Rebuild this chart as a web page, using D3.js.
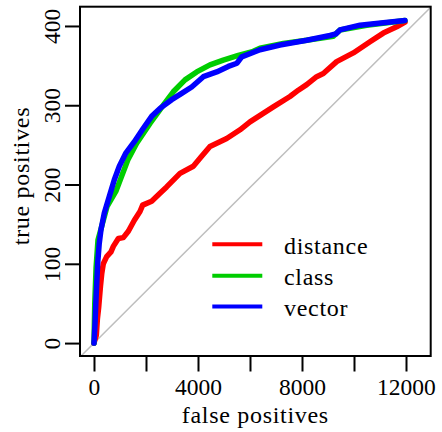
<!DOCTYPE html>
<html>
<head>
<meta charset="utf-8">
<script src="https://cdn.jsdelivr.net/npm/d3@7"></script>
<style>
  html, body { margin: 0; padding: 0; background: #fff; }
  svg { display: block; }
  svg text { font-family: "Liberation Serif", "Times New Roman", Tinos, "DejaVu Serif", serif; fill: #000; }
</style>
</head>
<body>
<svg id="chart" width="442" height="432"></svg>
<script>
// ---- data (false positives, true positives) ----
const seriesNames = ["distance", "class", "vector"];
const seriesColors = ["#FF0000", "#00CD00", "#0000FF"];

const distanceFP = [0, 90, 130, 180, 250, 300, 358, 488, 654, 744, 936, 1128, 1321, 1552, 1769, 1872, 2218, 2538, 2794, 3308, 3820, 4100, 4461, 5104, 5617, 6000, 6897, 7538, 7859, 8180, 8564, 8820, 9333, 9974, 10615, 11127, 11641, 11960];
const distanceTP = [0, 10, 30, 45, 72, 88, 100, 109, 115, 122, 132, 133, 141, 155, 166, 174, 179, 189, 197, 214, 223, 234, 248, 258, 269, 279, 298, 311, 319, 326, 336, 340, 355, 366, 380, 391, 399, 405];

const classFP = [0, 30, 80, 154, 327, 500, 850, 1300, 1642, 2154, 2666, 3050, 3500, 3950, 4461, 4973, 5551, 6127, 6384, 7281, 8180, 9204, 9461, 10488, 11511, 11960];
const classTP = [0, 50, 95, 130, 151, 172, 192, 231, 252, 277, 300, 317, 332, 342, 351, 357, 363, 368, 372, 378, 382, 387, 395, 401, 405, 407];

const vectorFP = [0, 40, 77, 141, 200, 269, 397, 590, 782, 974, 1231, 1552, 1897, 2218, 2538, 2988, 3373, 3758, 4206, 4718, 5166, 5500, 5680, 6384, 7153, 8180, 9077, 9300, 9461, 10230, 11127, 11960];
const vectorTP = [0, 25, 55, 100, 125, 143, 164, 185, 206, 223, 240, 254, 271, 286, 296, 307, 315, 323, 336, 342, 349, 353, 361, 370, 376, 382, 388, 390, 395, 401, 404, 407];

const xTicks = [0, 2000, 4000, 6000, 8000, 10000, 12000];
const xTickLabels = [0, 4000, 8000, 12000];
const yTicks = [0, 100, 200, 300, 400];
const diagSlope = 0.0327;

// ---- layout ----
const FONT = "'Liberation Serif', 'Times New Roman', Tinos, 'DejaVu Serif', serif";
const NUM_SIZE = 23.5, WORD_SIZE = 24, WORD_SPACING = 0.7;
const svg = d3.select("#chart");
const L = 80, R = 430.7, T = 6.7, B = 356;

const x = d3.scaleLinear().domain([-538, 12950]).range([L, R]);
const y = d3.scaleLinear().domain([-16.3, 424.3]).range([B, T]);

svg.append("defs").append("clipPath").attr("id", "plotclip")
  .append("rect").attr("x", L).attr("y", T).attr("width", R - L).attr("height", B - T);

const plot = svg.append("g").attr("clip-path", "url(#plotclip)");

// diagonal reference line
const dx = x.domain();
plot.append("line")
  .attr("x1", x(dx[0])).attr("y1", y(dx[0] * diagSlope))
  .attr("x2", x(dx[1])).attr("y2", y(dx[1] * diagSlope))
  .attr("stroke", "#BEBEBE").attr("stroke-width", 1.5);

const line = d3.line().x(d => x(d[0])).y(d => y(d[1]));
const series = [
  d3.zip(distanceFP, distanceTP),
  d3.zip(classFP, classTP),
  d3.zip(vectorFP, vectorTP)
];
series.forEach((pts, i) => {
  plot.append("path")
    .attr("d", line(pts))
    .attr("fill", "none")
    .attr("stroke", seriesColors[i])
    .attr("stroke-width", 5.5)
    .attr("stroke-linejoin", "round")
    .attr("stroke-linecap", "round");
});

// box
svg.append("rect").attr("x", L).attr("y", T).attr("width", R - L).attr("height", B - T)
  .attr("fill", "none").attr("stroke", "#000").attr("stroke-width", 2);

// x axis
const xAxis = d3.axisBottom(x).tickValues(xTicks).tickSize(15.5)
  .tickFormat(d => xTickLabels.includes(d) ? String(d) : "");
const gx = svg.append("g").attr("transform", `translate(0,${B})`).call(xAxis)
  .attr("font-family", FONT).attr("font-size", NUM_SIZE);
gx.select(".domain").remove();
gx.selectAll(".tick line").attr("stroke", "#000").attr("stroke-width", 2);
gx.selectAll(".tick text")
  .attr("y", 0).attr("dy", 0)
  .attr("transform", `translate(0,${395 - B})`)
  .attr("font-size", NUM_SIZE).attr("fill", "#000");

// y axis
const yAxis = d3.axisLeft(y).tickValues(yTicks).tickSize(15).tickFormat(d => String(d));
const gy = svg.append("g").attr("transform", `translate(${L},0)`).call(yAxis)
  .attr("font-family", FONT).attr("font-size", NUM_SIZE);
gy.select(".domain").remove();
gy.selectAll(".tick line").attr("stroke", "#000").attr("stroke-width", 2);
gy.selectAll(".tick text")
  .attr("x", 0).attr("dy", 0)
  .attr("text-anchor", "middle")
  .attr("transform", `translate(${59.5 - L},0) rotate(-90)`)
  .attr("font-size", NUM_SIZE).attr("fill", "#000");

// axis titles
svg.append("text")
  .attr("x", (L + R) / 2).attr("y", 423)
  .attr("text-anchor", "middle")
  .attr("font-size", WORD_SIZE).attr("letter-spacing", WORD_SPACING)
  .text("false positives");
svg.append("text")
  .attr("transform", `translate(29,176) rotate(-90)`)
  .attr("text-anchor", "middle")
  .attr("font-size", WORD_SIZE).attr("letter-spacing", WORD_SPACING)
  .text("true positives");

// legend
const legY = [244.3, 275.7, 306.5];
seriesNames.forEach((name, i) => {
  svg.append("line")
    .attr("x1", 212.3).attr("x2", 262.3)
    .attr("y1", legY[i]).attr("y2", legY[i])
    .attr("stroke", seriesColors[i]).attr("stroke-width", 4);
  svg.append("text")
    .attr("x", 284).attr("y", legY[i] + 9.3)
    .attr("font-size", WORD_SIZE).attr("letter-spacing", WORD_SPACING)
    .text(name);
});
</script>
</body>
</html>
